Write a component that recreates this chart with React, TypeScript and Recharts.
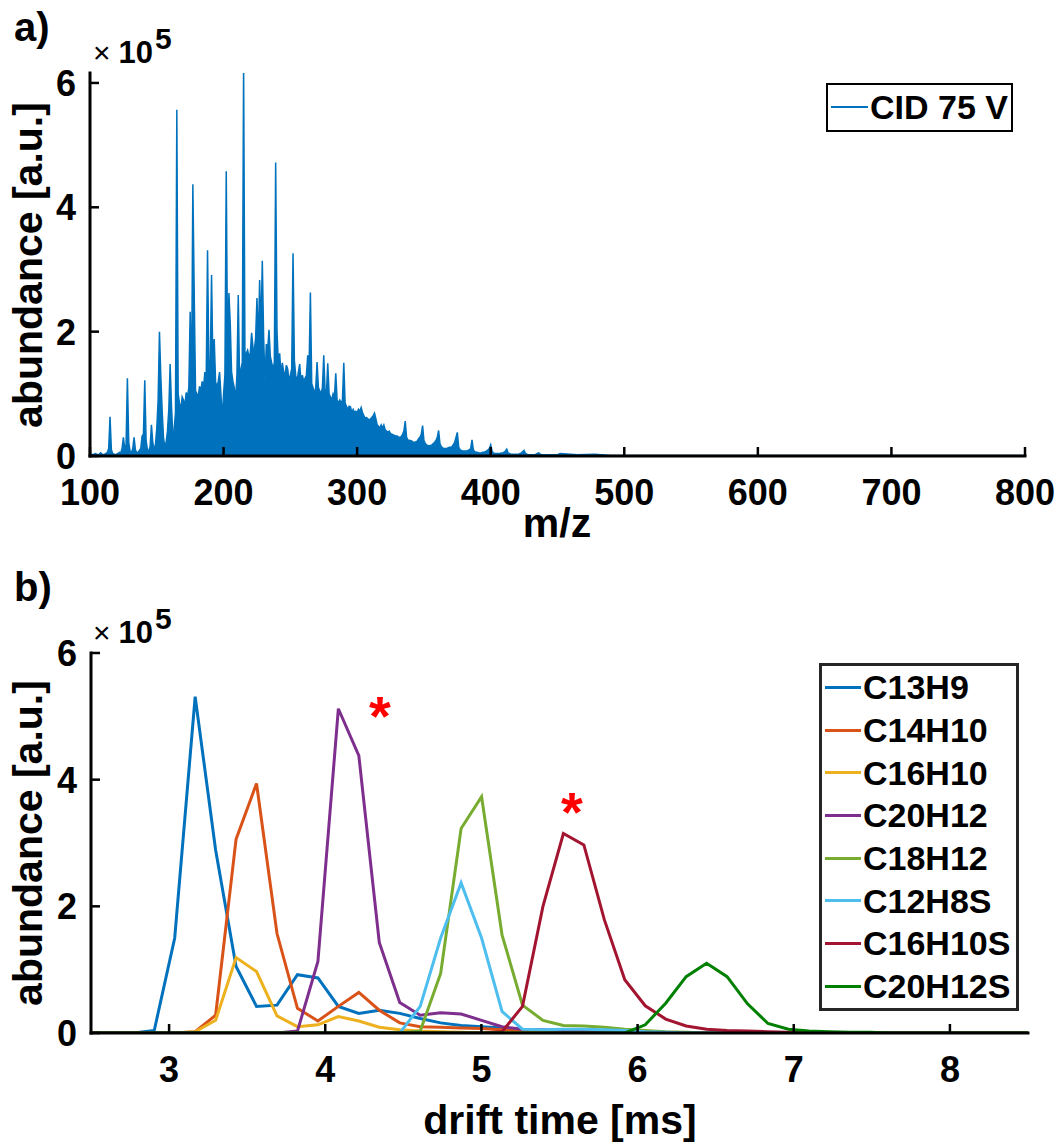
import { ComposedChart, Area, Line, Scatter, XAxis, YAxis, Legend } from "recharts"

const FONT = "'Liberation Sans', Arial, Helvetica, sans-serif"
const TICK_LEN = 9

// ---- a) mass spectrum, CID 75 V (abundance in units of 1e5) ----
// one value per integer m/z starting at specStart
const specStart = 100
const specAbundance = [
	0.03, 0.03, 0.02, 0.03, 0.04, 0.03, 0.02, 0.03, 0.05, 0.03,
	0.02, 0.03, 0.04, 0.06, 0.12, 0.63, 0.1, 0.04, 0.03, 0.02,
	0.03, 0.04, 0.06, 0.05, 0.12, 0.3, 0.12, 0.18, 1.25, 0.22,
	0.08, 0.05, 0.12, 0.3, 0.1, 0.05, 0.06, 0.09, 0.12, 0.32,
	0.35, 1.22, 0.25, 0.1, 0.08, 0.15, 0.5, 0.22, 0.1, 0.18,
	0.45, 0.9, 2.0, 1.3, 0.74, 0.3, 0.15, 0.22, 0.4, 0.75,
	1.48, 0.8, 0.35, 0.42, 0.7, 5.57, 1.0, 0.85, 0.75, 0.95,
	0.9, 0.8, 1.02, 0.95, 1.1, 2.32, 1.0, 4.37, 2.64, 1.05,
	1.0, 0.95, 1.12, 1.05, 1.2, 1.1, 1.35, 1.25, 3.31, 1.4,
	1.4, 2.91, 1.5, 1.88, 1.2, 1.1, 1.2, 1.35, 1.0, 0.6,
	1.0, 1.3, 4.58, 1.6, 2.62, 2.13, 1.35, 1.2, 1.1, 0.9,
	1.3, 2.59, 1.2, 1.4, 1.5, 6.3, 1.6, 1.65, 1.7, 1.6,
	1.65, 1.98, 1.75, 1.7, 1.9, 2.54, 1.8, 2.83, 2.0, 3.14,
	1.9, 1.19, 1.8, 1.7, 2.03, 1.6, 1.5, 1.4, 1.5, 4.72,
	2.0, 1.5, 1.65, 1.3, 1.5, 1.35, 1.3, 1.46, 1.4, 1.2,
	1.3, 1.4, 3.26, 1.54, 1.3, 1.2, 1.35, 1.48, 1.2, 1.3,
	1.2, 1.25, 1.3, 1.62, 1.4, 2.63, 1.16, 1.1, 1.0, 1.1,
	1.51, 1.1, 1.05, 1.0, 1.1, 1.62, 1.05, 1.0, 1.49, 1.0,
	0.95, 0.9, 1.0, 0.95, 1.33, 0.9, 0.85, 0.9, 0.85, 0.9,
	1.5, 0.85, 0.8, 0.75, 0.8, 0.79, 0.7, 0.75, 0.7, 0.72,
	0.7, 0.75, 0.72, 0.78, 0.7, 0.65, 0.6, 0.62, 0.6, 0.58,
	0.6, 0.62, 0.65, 0.69, 0.6, 0.5, 0.48, 0.45, 0.5, 0.45,
	0.5, 0.42, 0.4, 0.38, 0.4, 0.36, 0.35, 0.34, 0.33, 0.32,
	0.32, 0.3, 0.3, 0.31, 0.35, 0.4, 0.56, 0.3, 0.26, 0.25,
	0.25, 0.24, 0.22, 0.22, 0.23, 0.24, 0.28, 0.3, 0.35, 0.49,
	0.25, 0.2, 0.18, 0.17, 0.16, 0.17, 0.18, 0.2, 0.22, 0.25,
	0.3, 0.41, 0.2, 0.15, 0.13, 0.12, 0.12, 0.12, 0.13, 0.14,
	0.14, 0.15, 0.18, 0.22, 0.3, 0.38, 0.15, 0.1, 0.09, 0.08,
	0.08, 0.08, 0.08, 0.09, 0.1, 0.12, 0.26, 0.1, 0.07, 0.06,
	0.06, 0.05, 0.05, 0.05, 0.06, 0.06, 0.07, 0.08, 0.1, 0.12,
	0.18, 0.08, 0.05, 0.04, 0.04, 0.04, 0.04, 0.04, 0.05, 0.05,
	0.06, 0.08, 0.11, 0.05, 0.04, 0.03, 0.03, 0.03, 0.03, 0.03,
	0.03, 0.03, 0.04, 0.05, 0.07, 0.09, 0.04, 0.03, 0.02, 0.02,
	0.02, 0.02, 0.02, 0.02, 0.03, 0.04, 0.05, 0.03, 0.02, 0.02,
]
// flat tail, sparse points
const tailMz = [440, 450, 452, 465, 478, 490, 520, 560, 600, 650, 700, 750, 800]
const tailAbundance = [0.02, 0.02, 0.04, 0.02, 0.03, 0.01, 0.01, 0.01, 0.01, 0.01, 0.01, 0.01, 0.01]
const mzTicks = [100, 200, 300, 400, 500, 600, 700, 800]
const specYTicks = [0, 2, 4, 6]
const specName = "CID 75 V"

// ---- b) drift time profiles (abundance in units of 1e5) ----
const driftTime = [
	2.512, 2.643, 2.774, 2.905, 3.036, 3.167, 3.298, 3.429, 3.56, 3.691,
	3.822, 3.953, 4.084, 4.215, 4.346, 4.477, 4.608, 4.739, 4.87, 5.001,
	5.132, 5.263, 5.394, 5.525, 5.656, 5.787, 5.918, 6.049, 6.18, 6.311,
	6.442, 6.573, 6.704, 6.835, 6.966, 7.097, 7.228, 7.359, 7.49, 7.621,
	7.752, 7.883, 8.014, 8.145, 8.276, 8.407, 8.538,
]
const c13h9 = [
	0, 0, 0, 0.04, 1.5, 5.31, 2.89, 1.05, 0.42, 0.44,
	0.92, 0.87, 0.42, 0.31, 0.36, 0.31, 0.23, 0.16, 0.12, 0.1,
	0.08, 0.05, 0.03, 0.02, 0.01, 0, 0, 0, 0, 0,
	0, 0, 0, 0, 0, 0, 0, 0, 0, 0,
	0, 0, 0, 0, 0, 0, 0,
]
const c14h10 = [
	0, 0, 0, 0, 0, 0.02, 0.28, 3.06, 3.94, 1.57,
	0.39, 0.19, 0.42, 0.64, 0.36, 0.16, 0.1, 0.09, 0.08, 0.07,
	0.05, 0.03, 0.01, 0, 0, 0, 0, 0, 0, 0,
	0, 0, 0, 0, 0, 0, 0, 0, 0, 0,
	0, 0, 0, 0, 0, 0, 0,
]
const c16h10 = [
	0, 0, 0, 0, 0, 0.02, 0.2, 1.19, 0.97, 0.27,
	0.1, 0.13, 0.26, 0.19, 0.09, 0.05, 0.03, 0.02, 0.01, 0,
	0, 0, 0, 0, 0, 0, 0, 0, 0, 0,
	0, 0, 0, 0, 0, 0, 0, 0, 0, 0,
	0, 0, 0, 0, 0, 0, 0,
]
const c20h12 = [
	0, 0, 0, 0, 0, 0, 0, 0, 0, 0,
	0.03, 1.13, 5.12, 4.38, 1.43, 0.48, 0.28, 0.32, 0.3, 0.2,
	0.1, 0.06, 0.05, 0.04, 0.03, 0.02, 0.01, 0, 0, 0,
	0, 0, 0, 0, 0, 0, 0, 0, 0, 0,
	0, 0, 0, 0, 0, 0, 0,
]
const c18h12 = [
	0, 0, 0, 0, 0, 0, 0, 0, 0, 0,
	0, 0, 0, 0, 0, 0, 0.03, 0.94, 3.23, 3.73,
	1.55, 0.44, 0.2, 0.12, 0.11, 0.09, 0.06, 0.04, 0.02, 0.01,
	0, 0, 0, 0, 0, 0, 0, 0, 0, 0,
	0, 0, 0, 0, 0, 0, 0,
]
const c12h8s = [
	0, 0, 0, 0, 0, 0, 0, 0, 0, 0,
	0, 0, 0, 0, 0, 0, 0.42, 1.5, 2.37, 1.5,
	0.34, 0.06, 0.05, 0.06, 0.06, 0.05, 0.04, 0.02, 0.01, 0,
	0, 0, 0, 0, 0, 0, 0, 0, 0, 0,
	0, 0, 0, 0, 0, 0, 0,
]
const c16h10s = [
	0, 0, 0, 0, 0, 0, 0, 0, 0, 0,
	0, 0, 0, 0, 0, 0, 0, 0, 0, 0,
	0.02, 0.42, 2.0, 3.15, 2.97, 1.79, 0.84, 0.43, 0.22, 0.11,
	0.06, 0.04, 0.03, 0.02, 0.01, 0, 0, 0, 0, 0,
	0, 0, 0, 0, 0, 0, 0,
]
const c20h12s = [
	0, 0, 0, 0, 0, 0, 0, 0, 0, 0,
	0, 0, 0, 0, 0, 0, 0, 0, 0, 0,
	0, 0, 0, 0, 0, 0, 0, 0.13, 0.47, 0.89,
	1.1, 0.89, 0.46, 0.15, 0.06, 0.03, 0.02, 0.01, 0.01, 0,
	0, 0, 0, 0, 0, 0, 0,
]
const seriesNames = ["C13H9", "C14H10", "C16H10", "C20H12", "C18H12", "C12H8S", "C16H10S", "C20H12S"]
const seriesColors = ["#0072BD", "#D95319", "#EDB120", "#7E2F8E", "#77AC30", "#4DBEEE", "#A2142F", "#008000"]
const driftSeries = [c13h9, c14h10, c16h10, c20h12, c18h12, c12h8s, c16h10s, c20h12s]
const driftTicks = [3, 4, 5, 6, 7, 8]
const driftYTicks = [0, 2, 4, 6]
// red asterisks marking two peaks
const starTime = [4.35, 5.58]
const starAbundance = [5.2, 3.68]

const specRows = [
	...specAbundance.map((ab, i) => ({ mz: specStart + i, ab })),
	...tailMz.map((mz, i) => ({ mz, ab: tailAbundance[i] })),
]
const driftRows = driftTime.map((t, i) => {
	const row: Record<string, number> = { t }
	seriesNames.forEach((name, s) => {
		row[name] = driftSeries[s][i]
	})
	return row
})
const starRows = starTime.map((t, i) => ({ t, ab: starAbundance[i] }))

const axisLine = { stroke: "#000", strokeWidth: 3, strokeLinecap: "square" as const }

function BottomTick({ x, y, payload }: any) {
	return (
		<g>
			<line x1={x} y1={y} x2={x} y2={y - TICK_LEN} stroke="#000" strokeWidth={2.5} />
			<text x={x} y={y + 49} textAnchor="middle" fontSize={36} fontWeight={700} fontFamily={FONT} fill="#000">
				{payload.value}
			</text>
		</g>
	)
}

function LeftTick({ x, y, payload }: any) {
	return (
		<g>
			<line x1={x} y1={y} x2={x + TICK_LEN} y2={y} stroke="#000" strokeWidth={2.5} />
			<text x={x - 14} y={y + 13} textAnchor="end" fontSize={36} fontWeight={700} fontFamily={FONT} fill="#000">
				{payload.value}
			</text>
		</g>
	)
}

function TopTick({ x, y }: any) {
	return <line x1={x} y1={y} x2={x} y2={y + TICK_LEN} stroke="#000" strokeWidth={2.5} />
}

function RightTick({ x, y }: any) {
	return <line x1={x} y1={y} x2={x - TICK_LEN} y2={y} stroke="#000" strokeWidth={2.5} />
}

function Star({ cx, cy }: any) {
	return (
		<text x={cx} y={cy + 31} textAnchor="middle" fontSize={56} fontWeight={700} fontFamily={FONT} fill="#FF0000">
			*
		</text>
	)
}

// legend keeps the plotting order and skips anything not in box.names
function BoxLegend({ payload, box }: any) {
	const entries = (payload || [])
		.filter((e: any) => box.names.includes(e.value))
		.sort((a: any, b: any) => box.names.indexOf(a.value) - box.names.indexOf(b.value))
	return (
		<div
			style={{
				width: box.width,
				height: box.height,
				border: `${box.border}px solid ${box.borderColor}`,
				boxSizing: "border-box",
				background: "#fff",
				fontFamily: FONT,
			}}
		>
			{entries.map((entry: any) => (
				<div key={entry.value} style={{ display: "flex", alignItems: "center", height: box.rowHeight }}>
					<span
						style={{
							display: "inline-block",
							flex: "none",
							width: box.lineWidth,
							height: box.lineThickness,
							marginLeft: box.lineLeft,
							background: entry.color,
						}}
					/>
					<span style={{ fontSize: box.fontSize, fontWeight: 700, lineHeight: 1, marginLeft: 2, color: "#000", whiteSpace: "nowrap" }}>
						{entry.value}
					</span>
				</div>
			))}
		</div>
	)
}

const legendA = { names: [specName], width: 187, height: 49, border: 2.5, borderColor: "#000", rowHeight: 44, lineWidth: 37, lineThickness: 2, lineLeft: 3, fontSize: 34 }
const legendB = { names: seriesNames, width: 200, height: 348, border: 3, borderColor: "#262626", rowHeight: 42.7, lineWidth: 36, lineThickness: 3, lineLeft: 3, fontSize: 34 }

function Exponent({ x, y }: { x: number; y: number }) {
	return (
		<text x={x} y={y} fontFamily={FONT} fontSize={30} fill="#000">
			<tspan>×</tspan>
			<tspan dx={8} fontWeight={700} fontSize={31}>10</tspan>
			<tspan dx={2} dy={-14} fontWeight={700}>5</tspan>
		</text>
	)
}

export default function App() {
	const titleProps = { fontFamily: FONT, fontSize: 41, fontWeight: 700, fill: "#000" }
	return (
		<div style={{ position: "absolute", left: 0, top: 0, width: 1059, height: 1144, background: "#fff" }}>
			<div style={{ position: "absolute", left: 0, top: 0 }}>
				<ComposedChart width={1059} height={572} data={specRows} margin={{ top: 73, right: 34, bottom: 0, left: 0 }}>
					<XAxis
						dataKey="mz"
						type="number"
						domain={[100, 800]}
						allowDataOverflow
						ticks={mzTicks}
						interval={0}
						height={116}
						tickSize={0}
						tickMargin={0}
						tickLine={false}
						axisLine={axisLine}
						tick={<BottomTick />}
					/>
					<XAxis
						xAxisId="top"
						orientation="top"
						type="number"
						domain={[100, 800]}
						allowDataOverflow
						ticks={mzTicks}
						interval={0}
						height={0}
						tickSize={0}
						tickMargin={0}
						tickLine={false}
						axisLine={axisLine}
						tick={<TopTick />}
					/>
					<YAxis
						type="number"
						domain={[0, 6.16]}
						allowDataOverflow
						ticks={specYTicks}
						interval={0}
						width={90}
						tickSize={0}
						tickMargin={0}
						tickLine={false}
						axisLine={axisLine}
						tick={<LeftTick />}
					/>
					<YAxis
						yAxisId="right"
						orientation="right"
						type="number"
						domain={[0, 6.16]}
						allowDataOverflow
						ticks={specYTicks}
						interval={0}
						width={0}
						tickSize={0}
						tickMargin={0}
						tickLine={false}
						axisLine={axisLine}
						tick={<RightTick />}
					/>
					<Area
						type="linear"
						dataKey="ab"
						name={specName}
						stroke="#0072BD"
						strokeWidth={1.5}
						fill="#0072BD"
						fillOpacity={1}
						dot={false}
						activeDot={false}
						isAnimationActive={false}
					/>
					<Legend
						layout="vertical"
						align="center"
						verticalAlign="middle"
						wrapperStyle={{ left: 826, top: 83, width: 187, height: 49 }}
						content={(props: any) => <BoxLegend {...props} box={legendA} />}
					/>
				</ComposedChart>
			</div>

			<div style={{ position: "absolute", left: 0, top: 572 }}>
				<ComposedChart width={1059} height={572} data={driftRows} margin={{ top: 81, right: 31, bottom: 0, left: 0 }}>
					<XAxis
						dataKey="t"
						type="number"
						domain={[2.5, 8.5]}
						allowDataOverflow
						ticks={driftTicks}
						interval={0}
						height={111}
						tickSize={0}
						tickMargin={0}
						tickLine={false}
						axisLine={axisLine}
						tick={<BottomTick />}
					/>
					<XAxis
						xAxisId="top"
						orientation="top"
						type="number"
						domain={[2.5, 8.5]}
						allowDataOverflow
						ticks={driftTicks}
						interval={0}
						height={0}
						tickSize={0}
						tickMargin={0}
						tickLine={false}
						axisLine={axisLine}
						tick={<TopTick />}
					/>
					<YAxis
						type="number"
						domain={[0, 6]}
						allowDataOverflow
						ticks={driftYTicks}
						interval={0}
						width={91}
						tickSize={0}
						tickMargin={0}
						tickLine={false}
						axisLine={axisLine}
						tick={<LeftTick />}
					/>
					<YAxis
						yAxisId="right"
						orientation="right"
						type="number"
						domain={[0, 6]}
						allowDataOverflow
						ticks={driftYTicks}
						interval={0}
						width={0}
						tickSize={0}
						tickMargin={0}
						tickLine={false}
						axisLine={axisLine}
						tick={<RightTick />}
					/>
					{seriesNames.map((name, s) => (
						<Line
							key={name}
							type="linear"
							dataKey={name}
							name={name}
							stroke={seriesColors[s]}
							strokeWidth={3}
							dot={false}
							activeDot={false}
							isAnimationActive={false}
						/>
					))}
					<Scatter data={starRows} dataKey="ab" name="marker" legendType="none" shape={<Star />} isAnimationActive={false} />
					<Legend
						layout="vertical"
						align="center"
						verticalAlign="middle"
						wrapperStyle={{ left: 819, top: 91, width: 200, height: 348 }}
						content={(props: any) => <BoxLegend {...props} box={legendB} />}
					/>
				</ComposedChart>
			</div>

			<svg width={1059} height={1144} style={{ position: "absolute", left: 0, top: 0, pointerEvents: "none" }}>
				<text x={14} y={41} {...titleProps} fontSize={40}>a)</text>
				<Exponent x={93} y={63} />
				<text x={557} y={537} textAnchor="middle" {...titleProps}>m/z</text>
				<text transform="translate(42 265) rotate(-90)" textAnchor="middle" {...titleProps}>abundance [a.u.]</text>

				<text x={14} y={601} {...titleProps} fontSize={40}>b)</text>
				<Exponent x={93} y={643} />
				<text x={560} y={1134} textAnchor="middle" {...titleProps}>drift time [ms]</text>
				<text transform="translate(42 843) rotate(-90)" textAnchor="middle" {...titleProps}>abundance [a.u.]</text>
			</svg>
		</div>
	)
}
